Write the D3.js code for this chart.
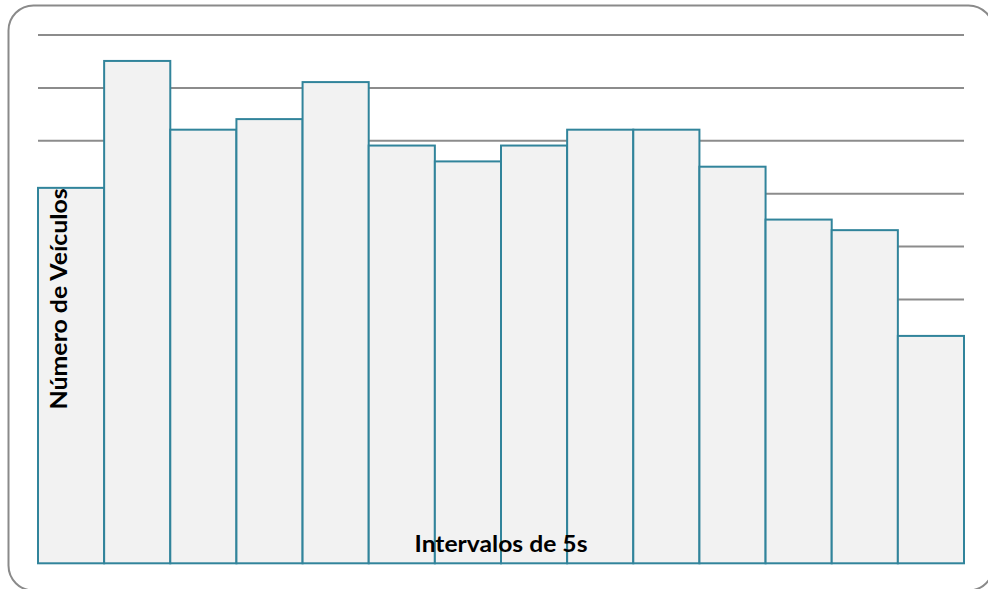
<html>
<head>
<meta charset="utf-8">
<script src="https://cdn.jsdelivr.net/npm/d3@7"></script>
<style>
  body { margin: 0; background: #fff; }
  svg text { font-family: Lato, "Open Sans", sans-serif; font-weight: bold; fill: #000; }
</style>
</head>
<body>
<div id="viz"></div>
<script>
// interval index (each bar = one 5 s interval)
var intervals = ["1","2","3","4","5","6","7","8","9","10","11","12","13","14"];
// number of vehicles per interval
var vehicles = [71, 95, 82, 84, 91, 79, 76, 79, 82, 82, 75, 65, 63, 43];
// gridline values (no tick labels shown in the chart)
var gridTicks = [10, 20, 30, 40, 50, 60, 70, 80, 90, 100];
var xTitle = "Intervalos de 5s";
var yTitle = "Número de Veículos";

var width = 988, height = 589;
var plotLeft = 38, plotRight = 964, plotTop = 34.5, plotBottom = 563.3;

var svg = d3.select("#viz").append("svg")
    .attr("width", width)
    .attr("height", height);

// chart area frame
svg.append("rect")
    .attr("x", 8.5).attr("y", 5.5)
    .attr("width", 985).attr("height", 585)
    .attr("rx", 25).attr("ry", 25)
    .attr("fill", "#fff")
    .attr("stroke", "#8a8a8a")
    .attr("stroke-width", 2);

var x = d3.scaleBand().domain(intervals).range([plotLeft, plotRight]).padding(0);
var y = d3.scaleLinear().domain([0, 100]).range([plotBottom, plotTop]);

// horizontal gridlines
var grid = svg.append("g")
    .attr("transform", "translate(" + plotLeft + ",0)")
    .call(d3.axisLeft(y).tickValues(gridTicks).tickSize(-(plotRight - plotLeft)).tickFormat(""));
grid.select(".domain").remove();
grid.selectAll(".tick line")
    .attr("stroke", "#8c8c8c")
    .attr("stroke-width", 2);

// bars
svg.append("g").selectAll("rect")
    .data(vehicles)
    .enter().append("rect")
    .attr("x", function(d, i) { return x(intervals[i]); })
    .attr("y", function(d) { return y(d); })
    .attr("width", x.bandwidth())
    .attr("height", function(d) { return plotBottom - y(d); })
    .attr("fill", "#f2f2f2")
    .attr("stroke", "#31849b")
    .attr("stroke-width", 2);

// axis titles
svg.append("text")
    .attr("x", (plotLeft + plotRight) / 2)
    .attr("y", 551.7)
    .attr("text-anchor", "middle")
    .attr("font-size", 23.5)
    .attr("textLength", 173)
    .attr("lengthAdjust", "spacingAndGlyphs")
    .text(xTitle);

svg.append("text")
    .attr("transform", "translate(67," + ((plotTop + plotBottom) / 2) + ") rotate(-90)")
    .attr("text-anchor", "middle")
    .attr("font-size", 23.5)
    .attr("textLength", 221)
    .attr("lengthAdjust", "spacingAndGlyphs")
    .text(yTitle);
</script>
</body>
</html>
